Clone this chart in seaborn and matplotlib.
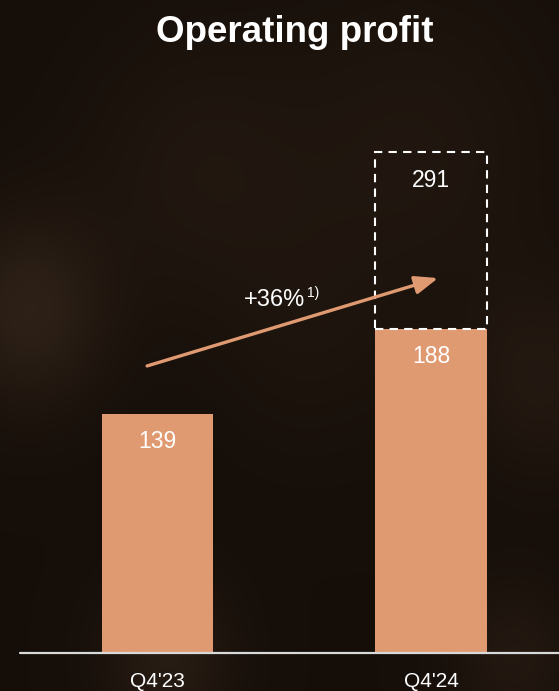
import numpy as np
import pandas as pd
import matplotlib
matplotlib.use("Agg")
import matplotlib.pyplot as plt
import seaborn as sns
from matplotlib.patches import Rectangle

# Data
quarters = ["Q4'23", "Q4'24"]
operating_profit = [139, 188]
adjusted_total = 291          # dashed box on top of Q4'24
growth_label = "+36%"
growth_note = "1)"

sns.set_style("dark")
plt.rcParams['font.family'] = ['Liberation Sans', 'DejaVu Sans']

bar_color = "#E09A72"
bg_color = (0.085, 0.055, 0.035)

fig = plt.figure(figsize=(5.59, 6.91), dpi=100)
ax = fig.add_axes([0, 0, 1, 1])

# px -> data mapping: baseline at 38px from bottom, 1.723 px per unit
px_per_unit = 1.723
ylo = -38 / px_per_unit
yhi = (691 - 38) / px_per_unit
xlo = -157.5 / 273.5
xhi = (559 - 157.5) / 273.5

# soft dark textured background
gx, gy = np.meshgrid(np.linspace(0, 1, 280), np.linspace(0, 1, 345))
bg = np.ones((345, 280, 3)) * np.array(bg_color)
blobs = [(0.05, 0.55, 0.10, 0.09), (0.35, 0.75, 0.15, 0.04), (0.75, 0.78, 0.18, 0.04),
         (0.97, 0.45, 0.10, 0.05), (0.3, 0.05, 0.08, 0.07), (0.92, 0.05, 0.08, 0.05),
         (0.55, 0.5, 0.12, 0.02)]
for cx, cy, r, a in blobs:
    w = np.exp(-((gx - cx) ** 2 + (gy - cy) ** 2) / (2 * r ** 2))
    bg += (w * a)[..., None] * np.array([1.0, 0.8, 0.6])
ax.imshow(np.clip(bg, 0, 1), extent=[xlo, xhi, ylo, yhi], aspect='auto', origin='lower', zorder=0)

df = pd.DataFrame({"quarter": quarters, "value": operating_profit})
sns.barplot(data=df, x="quarter", y="value", color=bar_color, saturation=1,
            width=0.406, ax=ax, zorder=2, edgecolor='none')

ax.set_xlim(xlo, xhi)
ax.set_ylim(ylo, yhi)
ax.axis('off')

# dashed box for adjusted value
bw = 0.406
ax.add_patch(Rectangle((1 - bw / 2, operating_profit[1]), bw, adjusted_total - operating_profit[1],
                       fill=False, edgecolor='white', linestyle=(0, (4, 3)), linewidth=1.5, zorder=3))

# baseline
ax.plot([(20 - 157.5) / 273.5, xhi], [0, 0], color='#d9d9d9', linewidth=1.6, zorder=4, clip_on=False)

# value labels
for i, v in enumerate(operating_profit):
    ax.annotate(str(v), xy=(i, v), xytext=(0, -20), textcoords='offset points',
                ha='center', va='center', color='white', fontsize=16.5, zorder=5)
ax.annotate(str(adjusted_total), xy=(1, adjusted_total), xytext=(0, -21), textcoords='offset points',
            ha='center', va='center', color='white', fontsize=16.5, zorder=5)

# category labels
for i, q in enumerate(quarters):
    ax.text(i, -16.5, q, ha='center', va='center', color='white', fontsize=15)

# growth arrow
ax.annotate('', xy=(1.026, 217.6), xytext=(-0.038, 166.6),
            arrowprops=dict(arrowstyle='-|>,head_length=1.4,head_width=0.55',
                            color=bar_color, linewidth=2.4, shrinkA=0, shrinkB=0), zorder=4)
ax.text(0.539, 205, growth_label, ha='right', va='center', color='white', fontsize=17)
ax.text(0.545, 209, growth_note, ha='left', va='center', color='white', fontsize=10)

fig.text(295 / 559, 1 - 32 / 691, "Operating profit", ha='center', va='center',
         color='white', fontsize=26.5, fontweight='bold')

plt.savefig("out.png", dpi=100)
